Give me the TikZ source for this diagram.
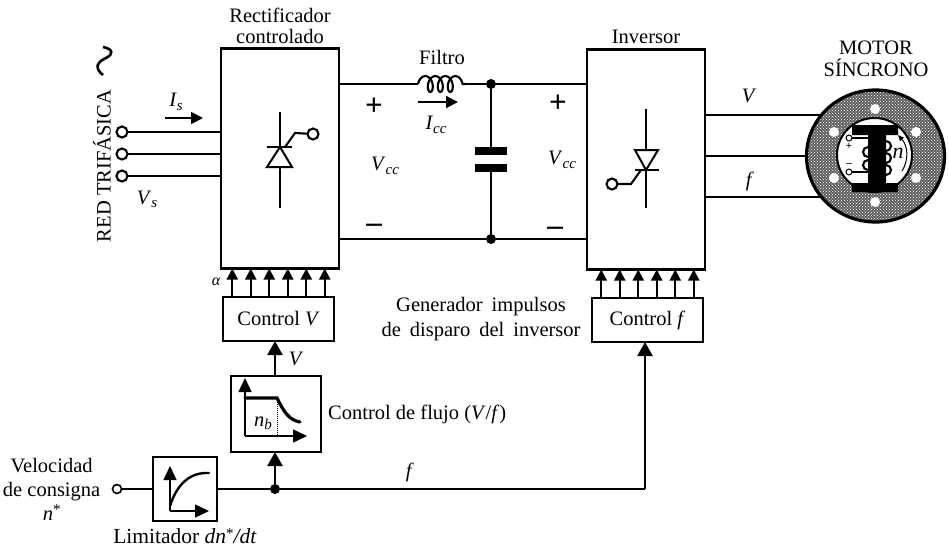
\documentclass[tikz,border=0pt]{standalone}
\usepackage{fontspec}
\setmainfont{Liberation Serif}
\usepackage{xcolor}
\usetikzlibrary{arrows.meta,positioning,calc,shapes.geometric,patterns,decorations.pathmorphing}
\newcommand{\subit}[2]{\textit{#1}\raisebox{-.35ex}{\fontsize{15}{15}\selectfont\itshape #2}}
\newcommand{\starit}{\textit{n}\raisebox{.55ex}{\fontsize{15}{15}\selectfont *}}
\tikzset{
  lab/.style={font=\fontsize{20.5}{24}\selectfont,inner sep=0pt,align=center},
  sign/.style={font=\fontsize{31}{31}\selectfont\bfseries,inner sep=0pt},
  bigbox/.style={draw,line width=2.2pt,minimum width=118pt,minimum height=220pt,inner sep=0pt,outer sep=0pt},
  ctrlbox/.style={draw,line width=2.2pt,minimum width=111pt,minimum height=44pt,align=center,inner sep=0pt,outer sep=0pt,
    font=\fontsize{20.5}{24}\selectfont},
  graphbox/.style={draw,line width=2.6pt,inner sep=0pt,outer sep=0pt},
  wire/.style={line width=2.1pt},
  thywire/.style={line width=2pt},
  term/.style={circle,draw,fill=white,line width=2.1pt,minimum size=11pt,inner sep=0pt,outer sep=0pt},
  junc/.style={circle,fill=black,minimum size=10pt,inner sep=0pt,outer sep=0pt},
  diagramarrow/.style={-{Triangle[length=14pt,width=15pt]},line width=2.2pt},
  gatearrow/.style={-{Triangle[length=11pt,width=11pt]},line width=2.1pt},
  axisarrow/.style={-{Triangle[length=14pt,width=13pt]},line width=1.4pt},
  lightarrow/.style={-{Triangle[length=12pt,width=12pt]},line width=1.9pt}
}
\begin{document}
\begin{tikzpicture}[x=1pt,y=-1pt]
  \useasboundingbox (0,0) rectangle (949,550);
  % power stage
  \node[bigbox] (rect) at (280,158.5) {};
  \node[bigbox] (inv) at (646,159.5) {};
  \node[lab,above=5pt of rect] (rectlabel) {Rectificador\\[-3pt]controlado};
  \node[lab,above=6pt of inv] (invlabel) {Inversor};
  \node[junc] (jt) at (491,84) {};
  \node[junc] (jb) at (491,239) {};
  \coordinate (coilin) at (418,84);
  \coordinate (coilout) at (466,84);
  \draw[wire] (jt -| rect.east) -- (coilin);
  \draw[wire] (coilin) decorate[decoration={coil,amplitude=8pt,segment length=10pt,aspect=0.6}] {-- (coilout)};
  \draw[wire] (coilout) -- (jt) -- (jt -| inv.west);
  \draw[wire] (jb -| rect.east) -- (jb) -- (jb -| inv.west);
  \coordinate (capa) at (491,151);
  \coordinate (capb) at (491,168);
  \draw[wire] (jt) -- (capa);
  \draw[wire] (capb) -- (jb);
  \draw[line width=8pt] (475,151) -- (507,151);
  \draw[line width=8pt] (475,168) -- (507,168);
  \node[lab] (filtro) at (442,57) {Filtro};
  \coordinate (icca) at (418,102);
  \coordinate (iccb) at (458,102);
  \draw[lightarrow] (icca) -- (iccb);
  \node[lab] (icc) at (436,125) {\subit{I}{cc}};
  \node[sign] (pa) at (374,107) {+};
  \node[sign] (ma) at (374,228) {\textendash};
  \node[lab] (vcca) at (385,166) {\subit{V}{cc}};
  \node[sign] (pb) at (558,104) {+};
  \node[sign] (mb) at (555,231) {\textendash};
  \node[lab] (vccb) at (562,160) {\subit{V}{cc}};
  % mains side
  \node[term] (ra) at (122,132) {};
  \node[term] (rb) at (122,154) {};
  \node[term] (rc) at (122,176) {};
  \foreach \a in {ra,rb,rc}
    \draw[wire] (\a) -- (\a -| rect.west);
  \node[lab,rotate=90] (red) at (102,166) {RED TRIFÁSICA};
  \draw[line width=2.6pt] (103,47) .. controls (113,49) and (114,54) .. (106,58) .. controls (97,62) and (94,68) .. (103,75);
  \coordinate (isa) at (165,118);
  \coordinate (isb) at (203,118);
  \draw[lightarrow] (isa) -- (isb);
  \node[lab] (is) at (176,102) {\subit{I}{s}};
  \node[lab] (vs) at (147,199) {\subit{V}{s}};
  % thyristors
  \draw[thywire] (280,112) -- (280,208);
  \draw[thywire,fill=white] (280,147) -- (267,167) -- (292,167) -- cycle;
  \draw[thywire] (267,147) -- (292,147);
  \node[term] (gatea) at (313,134) {};
  \draw[wire] (285,147) -- (295,133) -- (gatea);
  \draw[thywire] (646,109) -- (646,208);
  \draw[thywire,fill=white] (635,150) -- (658,150) -- (646,170) -- cycle;
  \draw[thywire] (635,170) -- (659,170);
  \node[term] (gateb) at (612,184) {};
  \draw[wire] (641,170) -- (631,184) -- (gateb);
  % control
  \node[ctrlbox] (ctrlv) at (278.5,319) {Control \textit{V}};
  \node[ctrlbox] (ctrlf) at (647.5,320) {Control \textit{f}};
  \foreach \i in {1,...,6} {
    \coordinate (va) at ($(ctrlv.north west)!{(\i-0.5)/6}!(ctrlv.north east)$);
    \coordinate (fa) at ($(ctrlf.north west)!{(\i-0.5)/6}!(ctrlf.north east)$);
    \draw[gatearrow] (va) -- (va |- rect.south);
    \draw[gatearrow] (fa) -- (fa |- inv.south);
  }
  \node[lab,font=\fontsize{16}{16}\selectfont\itshape] (alpha) at (216,282) {α};
  \node[lab] (gen) at (481,319) {\spaceskip=9pt Generador impulsos\\[1pt]\spaceskip=9pt de disparo del inversor};
  \node[graphbox,minimum width=90pt,minimum height=76pt] (flux) at (276,414) {};
  \node[graphbox,minimum width=64pt,minimum height=64pt] (lim) at (185,489) {};
  \node[lab,right=7pt of flux] (fluxlabel) {Control de flujo (\textit{V}/\textit{f})};
  \node[lab,below=7pt of lim,font=\fontsize{21.5}{24}\selectfont] (limlabel) {Limitador \textit{dn}\raisebox{.55ex}{\fontsize{15}{15}\selectfont *}\textit{/dt}};
  \node[junc] (jn) at (275,489) {};
  \node[term,minimum size=9pt,line width=1.6pt] (nref) at (117,489) {};
  \node[lab,left=12pt of nref] (nlabel) {Velocidad\\de consigna\\\starit};
  \coordinate (fcorner) at (645,489);
  \draw[wire] (nref) -- (lim);
  \draw[line width=2.8pt] (lim) -- (jn);
  \draw[wire] (jn) -- (fcorner);
  \draw[diagramarrow] (fcorner) -- (fcorner |- ctrlf.south);
  \draw[diagramarrow] (jn) -- (flux.south -| jn);
  \draw[diagramarrow] (flux.north -| jn) -- (ctrlv.south -| jn);
  \node[lab] (vlabel) at (296,359) {\textit{V}};
  \node[lab] (flabel) at (410,472) {\textit{f}};
  % flux curve
  \coordinate (fo) at (245,436);
  \coordinate (fu) at (245,378);
  \coordinate (fr) at (307,436);
  \draw[axisarrow] (fo) -- (fu);
  \draw[axisarrow] (fo) -- (fr);
  \draw[line width=3.2pt,line cap=round] (245,398) -- (277,398) .. controls (284,412) and (289,420) .. (300,422);
  \draw[densely dotted,line width=1pt] (277,398) -- (277,436);
  \node[lab] (nb) at (263,423) {\subit{n}{b}};
  % limiter curve
  \coordinate (lo) at (170,511);
  \coordinate (lu) at (170,466);
  \coordinate (lr) at (209,511);
  \draw[axisarrow] (lo) -- (lu);
  \draw[axisarrow] (lo) -- (lr);
  \draw[line width=2.4pt,line cap=round] (170,506) .. controls (177,484) and (190,472) .. (209,473);
  % motor
  \node[ellipse,draw,line width=3.2pt,preaction={fill=black!62},pattern=crosshatch dots,pattern color=white,
    minimum width=138pt,minimum height=132pt,inner sep=0pt,outer sep=0pt] (motor) at (875.5,156) {};
  \node[ellipse,draw,fill=white,line width=2pt,minimum width=75pt,minimum height=74pt,inner sep=0pt] (rotor) at (874.5,155) {};
  \foreach \x/\y in {875/109,834/132,916/132,834/178,916/178,875/202}
    \fill[white] (\x,\y) circle[radius=5pt];
  \node[lab,anchor=south] (motorlabel) at (876,77) {MOTOR\\[-2pt]SÍNCRONO};
  \draw[wire] (motor.143 -| inv.east) -- (motor.143);
  \draw[wire] (motor.west -| inv.east) -- (motor.west);
  \draw[wire] (motor.217 -| inv.east) -- (motor.217);
  \node[lab] (vout) at (749,96) {\textit{V}};
  \node[lab] (fout) at (750,181) {\textit{f}};
  \fill (852,125) -- (898,125) -- (898,135) -- (886,135) -- (886,183) -- (898,183) -- (898,192) -- (852,192) -- (852,183) -- (868,183) -- (868,135) -- (852,135) -- cycle;
  \foreach \y in {146,158,170}
    \draw[wire] (886,\y-5) arc[start angle=90,end angle=-90,radius=5pt];
  \foreach \y in {152,165}
    \draw[wire] (868,\y-5) arc[start angle=90,end angle=270,radius=5pt];
  \node[term,minimum size=6pt,line width=1pt] (ta) at (849,138) {};
  \node[term,minimum size=6pt,line width=1pt] (tb) at (849,172) {};
  \coordinate (tc) at (868,138);
  \coordinate (td) at (868,172);
  \draw[wire] (ta) -- (tc);
  \draw[wire] (tb) -- (td);
  \node[lab,font=\fontsize{11}{11}\selectfont\bfseries] (tplus) at (849,146) {+};
  \node[lab,font=\fontsize{11}{11}\selectfont\bfseries] (tminus) at (849,165) {\textendash};
  \node[lab,font=\fontsize{22}{22}\selectfont\itshape] (nspeed) at (898,153) {n};
  \draw[-{Triangle[length=6pt,width=5pt]},line width=1pt] (902,171) .. controls (909,160) and (908,146) .. (898,135);
\end{tikzpicture}
\end{document}
